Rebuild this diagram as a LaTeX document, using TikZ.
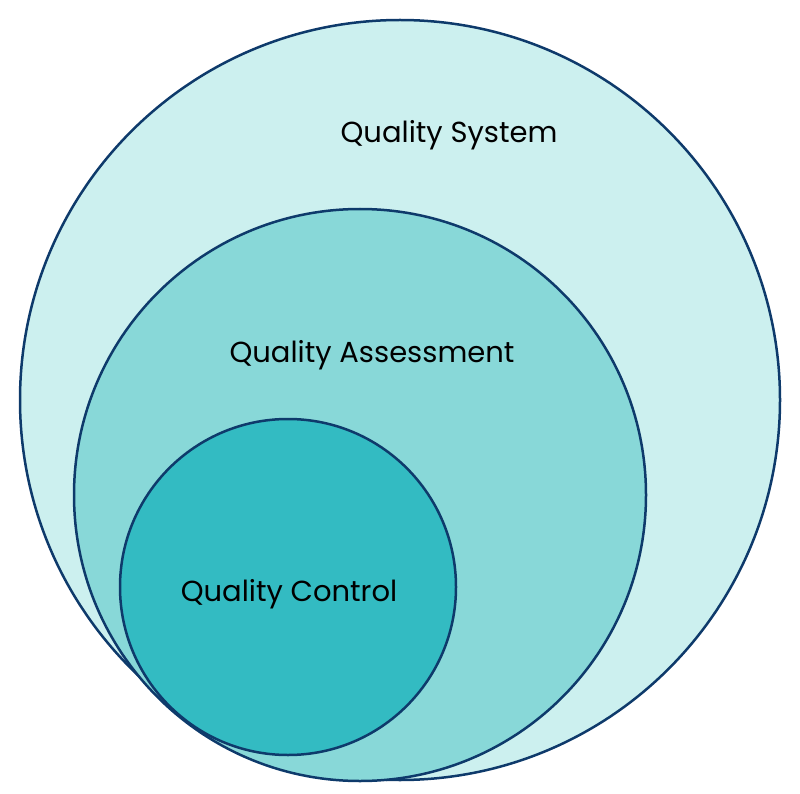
\documentclass[tikz,border=0pt]{standalone}
\usepackage{fontspec}
\setmainfont{Poppins}
\definecolor{c1}{HTML}{CCF0EF}
\definecolor{c2}{HTML}{88D8D8}
\definecolor{c3}{HTML}{33BBC2}
\definecolor{ln}{HTML}{0E3A6B}
\begin{document}
\begin{tikzpicture}[x=1pt,y=-1pt,
  ring/.style={draw=ln,line width=2.5pt},
  lbl/.style={font=\fontsize{29}{32}\selectfont,text=black,inner sep=0pt}]
\useasboundingbox (0,0) rectangle (800,794);
\fill[c1] (400,400) circle (380);
\draw[ring] (400,400) circle (380);
\fill[c2] (360,495) circle (286);
\draw[ring] (360,495) circle (286);
\fill[c3] (288,587) circle (168);
\draw[ring] (288,587) circle (168);
\node[lbl] (qs) at (449,135) {Quality System};
\node[lbl] (qa) at (372,355) {Quality Assessment};
\node[lbl] (qc) at (289,594) {Quality Control};
\end{tikzpicture}
\end{document}
